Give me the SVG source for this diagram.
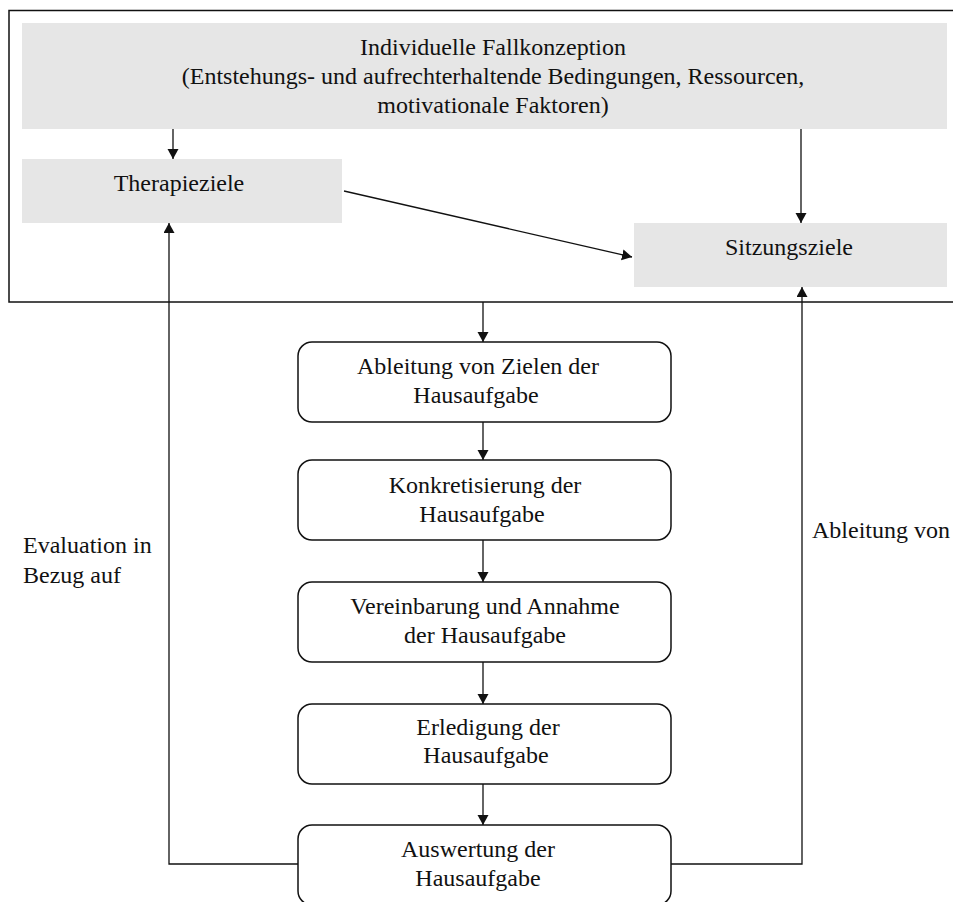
<svg xmlns="http://www.w3.org/2000/svg" width="953" height="902" viewBox="0 0 953 902">
<style>
text{font-family:"Liberation Serif","Times New Roman",serif;font-size:24px;fill:#111}
.c{text-anchor:middle}
.g{fill:#e6e6e6;stroke:none}
.b{fill:#fff;stroke:#111;stroke-width:1.5}
.l{fill:none;stroke:#111;stroke-width:1.3}
</style>
<defs>
<marker id="ah" markerUnits="userSpaceOnUse" markerWidth="11" markerHeight="12" refX="10" refY="5.5" orient="auto">
<path d="M0,0 L10,5.5 L0,11 z" fill="#111"/>
</marker>
</defs>
<rect width="953" height="902" fill="#fff"/>
<g id="frame"><rect x="9" y="10.5" width="960" height="291.5" fill="none" stroke="#111" stroke-width="1.5"/></g>
<g id="fallkonzeption">
<rect class="g" x="22" y="23" width="925" height="106"/>
<text class="c" x="493" y="55">Individuelle Fallkonzeption</text>
<text class="c" x="493" y="84">(Entstehungs- und aufrechterhaltende Bedingungen, Ressourcen,</text>
<text class="c" x="493" y="113">motivationale Faktoren)</text>
</g>
<g id="therapieziele">
<rect class="g" x="22" y="159" width="320" height="64"/>
<text class="c" x="179" y="191">Therapieziele</text>
</g>
<g id="sitzungsziele">
<rect class="g" x="634" y="223" width="313" height="64"/>
<text class="c" x="789" y="255">Sitzungsziele</text>
</g>
<g id="ableitung">
<rect class="b" x="298" y="342" width="373" height="80" rx="14"/>
<text class="c" x="478" y="374">Ableitung von Zielen der</text>
<text class="c" x="476" y="403">Hausaufgabe</text>
</g>
<g id="konkretisierung">
<rect class="b" x="298" y="460" width="373" height="80" rx="14"/>
<text class="c" x="485" y="493">Konkretisierung der</text>
<text class="c" x="482" y="522">Hausaufgabe</text>
</g>
<g id="vereinbarung">
<rect class="b" x="298" y="582" width="373" height="80" rx="14"/>
<text class="c" x="485" y="614">Vereinbarung und Annahme</text>
<text class="c" x="485" y="643">der Hausaufgabe</text>
</g>
<g id="erledigung">
<rect class="b" x="298" y="704" width="373" height="80" rx="14"/>
<text class="c" x="488" y="735">Erledigung der</text>
<text class="c" x="486" y="763">Hausaufgabe</text>
</g>
<g id="auswertung">
<rect class="b" x="298" y="825" width="373" height="80" rx="14"/>
<text class="c" x="478" y="857">Auswertung der</text>
<text class="c" x="478" y="886">Hausaufgabe</text>
</g>
<g id="connectors">
<line class="l" x1="173" y1="129" x2="173" y2="159" marker-end="url(#ah)"/>
<line class="l" x1="801" y1="129" x2="801" y2="223" marker-end="url(#ah)"/>
<line class="l" x1="344" y1="191" x2="632" y2="257" marker-end="url(#ah)"/>
<line class="l" x1="483" y1="302" x2="483" y2="342" marker-end="url(#ah)"/>
<line class="l" x1="483" y1="422" x2="483" y2="460" marker-end="url(#ah)"/>
<line class="l" x1="483" y1="540" x2="483" y2="582" marker-end="url(#ah)"/>
<line class="l" x1="483" y1="662" x2="483" y2="704" marker-end="url(#ah)"/>
<line class="l" x1="483" y1="784" x2="483" y2="825" marker-end="url(#ah)"/>
<polyline class="l" points="298,864 169,864 169,223" marker-end="url(#ah)"/>
<polyline class="l" points="671,864 802,864 802,287" marker-end="url(#ah)"/>
</g>
<g id="labels">
<text x="23" y="553">Evaluation in</text>
<text x="23" y="583">Bezug auf</text>
<text x="812" y="538">Ableitung von</text>
</g>
</svg>
